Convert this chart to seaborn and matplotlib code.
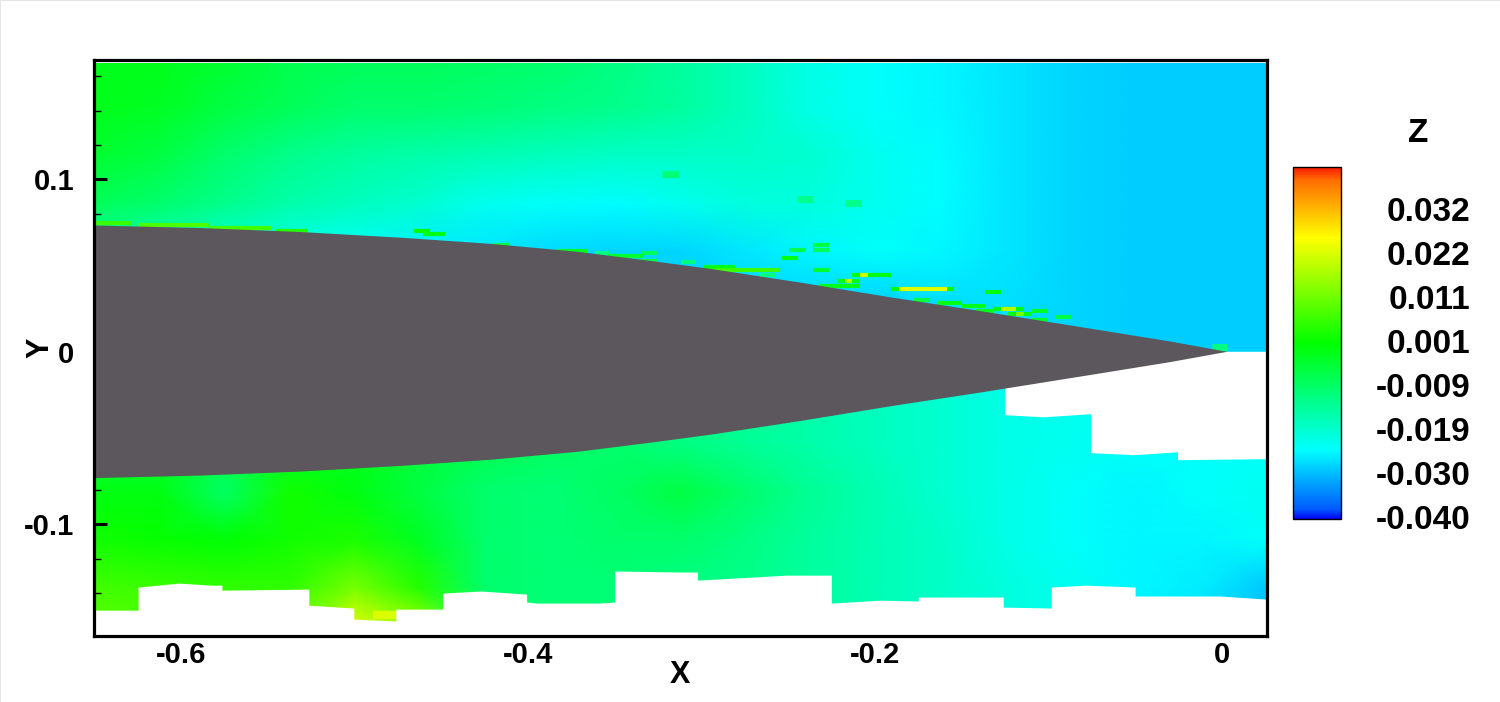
import numpy as np
import pandas as pd
import matplotlib
matplotlib.use("Agg")
import matplotlib.pyplot as plt
from matplotlib.colors import LinearSegmentedColormap, Normalize
import seaborn as sns

# field values, one list per row (top to bottom)
x_grid = [-0.6494, -0.6119, -0.5744, -0.5369, -0.4994, -0.4619, -0.4244, -0.3869, -0.3494, -0.3119,
          -0.2744, -0.2369, -0.1994, -0.1619, -0.1244, -0.0869, -0.0494, -0.0119, 0.0259]
y_grid = [0.1696, 0.1417, 0.1138, 0.086, 0.0581, 0.0302, 0.0023, -0.0255, -0.0534, -0.0813, -0.1091, -0.137, -0.1649]
z_rows = [
    [-0.002, -0.002, -0.004, -0.007, -0.008, -0.008, -0.009, -0.010, -0.012, -0.015, -0.018, -0.022, -0.024, -0.025, -0.0265, -0.028, -0.0285, -0.0285, -0.0285],
    [-0.002, -0.003, -0.006, -0.008, -0.010, -0.010, -0.011, -0.012, -0.013, -0.015, -0.018, -0.022, -0.024, -0.025, -0.0265, -0.028, -0.0285, -0.0285, -0.0285],
    [-0.004, -0.006, -0.010, -0.013, -0.015, -0.016, -0.017, -0.018, -0.019, -0.019, -0.019, -0.020, -0.023, -0.0245, -0.0265, -0.028, -0.0285, -0.0285, -0.0285],
    [-0.008, -0.010, -0.013, -0.016, -0.018, -0.020, -0.023, -0.024, -0.0245, -0.023, -0.021, -0.021, -0.023, -0.0245, -0.0265, -0.028, -0.0285, -0.0285, -0.0285],
    [-0.016, -0.018, -0.021, -0.023, -0.024, -0.0255, -0.0265, -0.0275, -0.028, -0.028, -0.0265, -0.025, -0.024, -0.025, -0.0265, -0.028, -0.0285, -0.0285, -0.0285],
    [-0.018, -0.020, -0.022, -0.024, -0.025, -0.026, -0.027, -0.028, -0.028, -0.028, -0.028, -0.028, -0.028, -0.027, -0.027, -0.028, -0.0285, -0.0285, -0.0285],
    [-0.018, -0.020, -0.022, -0.024, -0.025, -0.026, -0.027, -0.028, -0.028, -0.028, -0.028, -0.028, -0.028, -0.027, -0.027, -0.028, -0.0285, -0.0285, -0.0285],
    [-0.006, -0.006, -0.006, -0.004, -0.003, -0.005, -0.007, -0.009, -0.010, -0.012, -0.014, -0.016, -0.018, -0.020, -0.022, -0.023, -0.024, -0.024, -0.024],
    [-0.006, -0.006, -0.006, -0.004, -0.003, -0.005, -0.007, -0.009, -0.010, -0.012, -0.014, -0.016, -0.018, -0.020, -0.022, -0.023, -0.024, -0.024, -0.024],
    [-0.001, -0.001, -0.009, 0.002, -0.001, -0.006, -0.010, -0.011, -0.009, -0.006, -0.010, -0.014, -0.017, -0.020, -0.022, -0.024, -0.025, -0.024, -0.023],
    [0.002, 0.001, 0.000, 0.002, 0.003, -0.003, -0.010, -0.011, -0.010, -0.010, -0.012, -0.015, -0.017, -0.019, -0.022, -0.024, -0.025, -0.025, -0.024],
    [0.007, 0.006, 0.005, 0.005, 0.012, 0.004, -0.010, -0.011, -0.011, -0.012, -0.013, -0.015, -0.017, -0.019, -0.021, -0.023, -0.025, -0.026, -0.029],
    [0.009, 0.009, 0.009, 0.010, 0.0255, 0.018, -0.010, -0.011, -0.011, -0.012, -0.013, -0.015, -0.017, -0.019, -0.021, -0.023, -0.026, -0.027, -0.031],
]

# upper surface of the body, lower is the mirror
body_x = [-0.6494, -0.588, -0.531, -0.473, -0.421, -0.371, -0.329, -0.294, -0.242, -0.191, -0.139, -0.070, -0.030, 0.003]
body_y = [0.0733, 0.0718, 0.0695, 0.0662, 0.0626, 0.0580, 0.0527, 0.0480, 0.0400, 0.0316, 0.0236, 0.0125, 0.0060, 0.0]

# lower edge of the field
edge_x = [-0.6494, -0.6246, -0.6246, -0.6010, -0.5826, -0.5763, -0.5763, -0.5262, -0.5262, -0.5003, -0.5003, -0.4761, -0.4761,
          -0.4490, -0.4490, -0.4272, -0.4007, -0.4007, -0.3949, -0.3592, -0.3500, -0.3500, -0.3103, -0.3022, -0.3022, -0.2510,
          -0.2251, -0.2251, -0.1969, -0.1750, -0.1750, -0.1307, -0.1261, -0.1261, -0.0984, -0.0984, -0.0783, -0.0501, -0.0501,
          -0.0012, 0.0259]
edge_y = [-0.1499, -0.1499, -0.1365, -0.1342, -0.1354, -0.1354, -0.1383, -0.1377, -0.1470, -0.1487, -0.1551, -0.1562, -0.1493,
          -0.1493, -0.1400, -0.1388, -0.1406, -0.1452, -0.1458, -0.1458, -0.1452, -0.1272, -0.1278, -0.1278, -0.1325, -0.1296,
          -0.1296, -0.1458, -0.1441, -0.1446, -0.1423, -0.1423, -0.1423, -0.1481, -0.1487, -0.1365, -0.1354, -0.1365, -0.1417,
          -0.1417, -0.1435]

# blank wake region behind the tip
wake_x = [0.003, 0.0259, 0.0259, -0.0253, -0.0253, -0.0507, -0.0754, -0.0754, -0.1025, -0.1249, -0.1249]
wake_y = [0.0, 0.0, -0.0623, -0.0629, -0.0583, -0.0600, -0.0588, -0.0362, -0.0380, -0.0368, -0.0100]

# thin streaks above the body: start, end, height, value
streak_x0 = [-0.6494, -0.6240, -0.5840, -0.5450, -0.4655, -0.4604, -0.4200, -0.3832, -0.3614, -0.3345, -0.3537, -0.3370, -0.3118,
             -0.2985, -0.2933, -0.2663, -0.2535, -0.2496, -0.2355, -0.2355, -0.2355, -0.2131, -0.2085, -0.2219, -0.2175, -0.2317,
             -0.1906, -0.1859, -0.1366, -0.1777, -0.1635, -0.1499, -0.1319, -0.1276, -0.1232, -0.1186, -0.1096, -0.1096, -0.0959, -0.1417]
streak_x1 = [-0.6280, -0.5840, -0.5480, -0.5270, -0.4565, -0.4476, -0.4110, -0.3658, -0.3530, -0.3254, -0.3332, -0.3254, -0.3031,
             -0.2805, -0.2547, -0.2573, -0.2445, -0.2399, -0.2265, -0.2265, -0.2265, -0.1906, -0.2039, -0.2085, -0.2131, -0.2085,
             -0.1545, -0.1584, -0.1276, -0.1687, -0.1499, -0.1366, -0.1139, -0.1186, -0.1096, -0.1139, -0.1006, -0.1006, -0.0869, -0.1314]
streak_y = [0.0747, 0.0736, 0.0719, 0.0703, 0.0702, 0.0683, 0.0619, 0.0586, 0.0573, 0.0571, 0.0556, 0.0527, 0.0523,
            0.0490, 0.0476, 0.0443, 0.0542, 0.0588, 0.0619, 0.0588, 0.0476, 0.0443, 0.0443, 0.0409, 0.0409, 0.0380,
            0.0362, 0.0362, 0.0345, 0.0299, 0.0281, 0.0266, 0.0248, 0.0248, 0.0217, 0.0217, 0.0235, 0.0185, 0.0200, 0.0235]
streak_z = [0.006, 0.008, 0.007, 0.004, 0.001, -0.001, -0.006, -0.003, -0.012, -0.008, -0.004, -0.006, -0.012,
            -0.002, 0.006, -0.012, -0.001, -0.007, -0.006, -0.008, -0.004, -0.001, 0.020, -0.002, 0.018, -0.002,
            0.000, 0.022, -0.001, -0.006, -0.001, -0.002, -0.001, 0.018, -0.002, 0.012, -0.003, -0.003, -0.006, -0.002]

# wider faint blocks, last one is the yellow peak at the lower edge
block_x0 = [-0.3228, -0.2447, -0.2175, -0.0058, -0.4895]
block_x1 = [-0.3130, -0.2355, -0.2083, 0.0030, -0.4761]
block_y = [0.1029, 0.0887, 0.0864, 0.0026, -0.1527]
block_z = [-0.011, -0.013, -0.013, -0.012, 0.0215]

x_ticks = [-0.6, -0.4, -0.2, 0]
x_labels = ["-0.6", "-0.4", "-0.2", "0"]
y_ticks = [-0.1, 0, 0.1]
y_labels = ["-0.1", "0", "0.1"]
x_minor = [-0.65, -0.55, -0.5, -0.45, -0.35, -0.3, -0.25, -0.15, -0.1, -0.05]
y_minor = [-0.16, -0.14, -0.12, -0.08, -0.06, -0.04, -0.02, 0.02, 0.04, 0.06, 0.08, 0.12, 0.14, 0.16]
cbar_ticks = [-0.04, -0.02975, -0.0195, -0.00925, 0.001, 0.01125, 0.0215, 0.03175]
cbar_labels = ["-0.040", "-0.030", "-0.019", "-0.009", "0.001", "0.011", "0.022", "0.032"]

sns.set_theme(style="white")
plt.rcParams["font.family"] = ["Liberation Sans", "DejaVu Sans"]
plt.rcParams["font.weight"] = "bold"
plt.rcParams["axes.labelweight"] = "bold"

W, H = 1500, 702
fig = plt.figure(figsize=(W / 100, H / 100), dpi=100, facecolor="white")
pos = [94 / W, 1 - 636 / H, 1173 / W, 576.5 / H]
ax_heat = fig.add_axes(pos)
cax = fig.add_axes([1293 / W, 1 - 519 / H, 48 / W, 352 / H])

zmin, zmax = -0.0405, 0.0415
stops = [(0.0, (0, 0, 1)), (0.026, (0, 0.35, 1)), (0.196, (0, 1, 1)), (0.5, (0, 1, 0)), (0.8, (1, 1, 0)),
         (0.963, (1, 0.43, 0)), (1.0, (1, 0.1, 0))]
cmap = LinearSegmentedColormap.from_list("tec_rainbow", stops, N=512)
norm = Normalize(zmin, zmax)

field = pd.DataFrame(z_rows, index=y_grid, columns=x_grid)
sns.heatmap(field, ax=ax_heat, cmap=cmap, vmin=zmin, vmax=zmax, cbar_ax=cax, shading="gouraud",
            xticklabels=False, yticklabels=False)
ax_heat.set_xlim(0, len(x_grid) - 1)
ax_heat.set_ylim(len(y_grid) - 1, 0)
ax_heat.set_xlabel("")
ax_heat.set_ylabel("")

# numeric axes on top of the field
ax = fig.add_axes(pos, facecolor="none")
ax.set_xlim(x_grid[0], x_grid[-1])
ax.set_ylim(y_grid[-1], y_grid[0])

ax.hlines(block_y[-1:], block_x0[-1:], block_x1[-1:], colors=cmap(norm(block_z[-1:])), lw=6, capstyle="butt", zorder=0.9)
ax.fill_between(edge_x, edge_y, y_grid[-1], color="white", lw=0, zorder=1)
ax.fill(wake_x, wake_y, color="white", lw=0, zorder=1)
ax.axhspan(0.1678, y_grid[0], color="white", lw=0, zorder=1)
ax.hlines(block_y[:-1], block_x0[:-1], block_x1[:-1], colors=cmap(norm(block_z[:-1])), lw=5, capstyle="butt", zorder=1.2)
ax.hlines(streak_y, streak_x0, streak_x1, colors=cmap(norm(streak_z)), lw=3, capstyle="butt", zorder=1.3)
ax.fill(body_x + body_x[::-1], body_y + [-v for v in body_y[::-1]], color="#5c575c", lw=0, zorder=1.5)

ax.set_xticks(x_ticks, x_labels, fontsize=21, fontweight="bold")
ax.set_yticks(y_ticks, y_labels, fontsize=21, fontweight="bold")
ax.set_xticks(x_minor, minor=True)
ax.set_yticks(y_minor, minor=True)
ax.tick_params(axis="both", which="major", direction="in", length=9.5, width=2.2, color="black", labelcolor="black",
               bottom=True, left=True)
ax.tick_params(axis="x", which="major", pad=3.5)
ax.tick_params(axis="y", which="major", pad=14)
ax.tick_params(axis="both", which="minor", direction="in", length=5, width=1.0, color="black",
               bottom=True, left=True)
ax.set_xlabel("X", fontsize=22, fontweight="bold", color="black", va="center")
ax.set_ylabel("Y", fontsize=22, fontweight="bold", color="black", va="center")
ax.xaxis.set_label_coords(0.4996, -39 / 576.5)
ax.yaxis.set_label_coords(-54 / 1173, 0.5)
for s in ax.spines.values():
    s.set_visible(True)
    s.set_linewidth(2.3)
    s.set_color("black")

# colour bar
cbar = ax_heat.collections[0].colorbar
cbar.outline.set_linewidth(1.0)
cbar.outline.set_edgecolor("black")
cbar.set_ticks(cbar_ticks, labels=cbar_labels)
cax.tick_params(length=0, pad=93, labelsize=24, labelcolor="black")
for t in cax.get_yticklabels():
    t.set_ha("right")
    t.set_fontweight("bold")
fig.text(1418 / W, 1 - 134 / H, "Z", fontsize=24, fontweight="bold", ha="center", va="center", color="black")

# faint edge of the original page
fig.add_artist(plt.Line2D([0, 0], [0, 1], color="#e6e6e6", lw=1.5))
fig.add_artist(plt.Line2D([0, 1], [1, 1], color="#e6e6e6", lw=1.5))

fig.savefig("out.png", dpi=100)
